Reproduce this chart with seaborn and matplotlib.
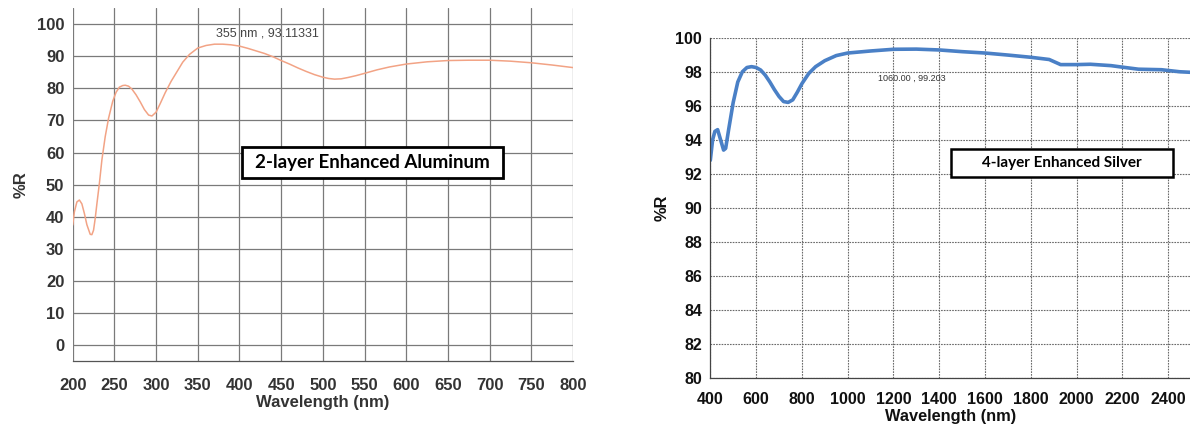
import numpy as np
import pandas as pd
import matplotlib
matplotlib.use("Agg")
import matplotlib.pyplot as plt
from matplotlib.patches import Rectangle
import seaborn as sns

# ---- data: 2-layer enhanced aluminum ----
al_wavelength = [200, 202, 205, 208, 211, 214, 217, 221, 223, 225, 227, 229, 232, 235, 239, 243, 248,
                 252, 256, 260, 263, 267, 271, 276, 281, 286, 291, 295, 300, 305, 311, 318, 325, 332,
                 340, 350, 360, 370, 380, 390, 400, 410, 420, 430, 440, 450, 460, 470, 480, 490, 500,
                 507, 514, 522, 530, 540, 550, 565, 580, 600, 625, 650, 675, 700, 725, 750, 775, 800]
al_reflect = [37.4, 41.5, 44.6, 45.2, 44.0, 41.0, 37.5, 34.5, 34.4, 35.8, 39.5, 44.0, 50.4, 57.7, 65.0, 70.7, 76.0,
              78.8, 80.4, 80.9, 81.0, 80.7, 79.8, 78.0, 75.8, 73.4, 71.7, 71.4, 72.6, 75.3, 78.7, 82.2, 85.2, 88.2,
              90.6, 92.6, 93.4, 93.8, 93.8, 93.6, 93.2, 92.5, 91.7, 90.9, 89.9, 88.7, 87.6, 86.4, 85.3, 84.3, 83.5,
              83.1, 82.9, 83.0, 83.4, 84.0, 84.7, 85.8, 86.7, 87.6, 88.3, 88.7, 88.8, 88.8, 88.5, 88.0, 87.3, 86.5]

# ---- data: 4-layer enhanced silver ----
ag_wavelength = [400, 410, 420, 432, 445, 458, 467, 480, 500, 520, 540, 560, 580, 600, 620, 640, 660, 680,
                 700, 720, 740, 760, 780, 800, 830, 860, 900, 950, 1000, 1100, 1200, 1300, 1400, 1500,
                 1600, 1700, 1800, 1880, 1930, 2000, 2060, 2150, 2200, 2270, 2370, 2450, 2495]
ag_reflect = [92.8, 94.0, 94.5, 94.6, 94.0, 93.4, 93.5, 94.6, 96.2, 97.4, 98.0, 98.25, 98.3, 98.25, 98.1, 97.8, 97.4, 96.95,
              96.55, 96.25, 96.2, 96.35, 96.8, 97.3, 97.9, 98.3, 98.65, 98.95, 99.1, 99.22, 99.32, 99.33, 99.28, 99.18,
              99.1, 98.98, 98.85, 98.72, 98.42, 98.42, 98.44, 98.36, 98.27, 98.15, 98.12, 98.0, 97.97]

al_xticks = [200, 250, 300, 350, 400, 450, 500, 550, 600, 650, 700, 750, 800]
al_yticks = [0, 10, 20, 30, 40, 50, 60, 70, 80, 90, 100]
ag_xticks = [400, 600, 800, 1000, 1200, 1400, 1600, 1800, 2000, 2200, 2400]
ag_yticks = [80, 82, 84, 86, 88, 90, 92, 94, 96, 98, 100]

al_df = pd.DataFrame({"Wavelength (nm)": al_wavelength, "%R": al_reflect})
ag_df = pd.DataFrame({"Wavelength (nm)": ag_wavelength, "%R": ag_reflect})

sns.set_theme(style="white")
plt.rcParams["font.family"] = ["Liberation Sans", "DejaVu Sans"]

fig = plt.figure(figsize=(11.9, 4.26), dpi=100)
ax1 = fig.add_axes([0.0611, 0.1526, 0.4204, 0.828])
ax2 = fig.add_axes([0.5969, 0.112, 0.4031, 0.7995])

# ---------- left panel ----------
sns.lineplot(data=al_df, x="Wavelength (nm)", y="%R", ax=ax1, color="#f2a385", linewidth=1.1, sort=False)
ax1.set_xlim(200, 800)
ax1.set_ylim(-5, 105)
ax1.set_xticks(al_xticks)
ax1.set_yticks(al_yticks)
ax1.grid(True, color="#7a7a7a", linewidth=0.9)
for s in ["top", "right", "left"]:
    ax1.spines[s].set_visible(False)
ax1.spines["bottom"].set_color("#555555")
ax1.spines["bottom"].set_linewidth(0.9)
ax1.tick_params(axis="both", direction="out", length=4, width=0.8, color="#777777",
                labelsize=12, labelcolor="#333333")
ax1.tick_params(axis="x", pad=8)
ax1.tick_params(axis="y", pad=2)
for lab in ax1.get_xticklabels() + ax1.get_yticklabels():
    lab.set_fontweight("bold")
ax1.set_xlabel("Wavelength (nm)", fontsize=12, fontweight="bold", color="#333333", labelpad=2)
ax1.set_ylabel("%R", fontsize=12, fontweight="bold", color="#333333", labelpad=6)
ax1.text(433, 97, "355 nm , 93.11331", fontsize=9, color="#444444", ha="center", va="center")
ax1.add_patch(Rectangle((0.338, 0.519), 0.522, 0.088, transform=ax1.transAxes,
                        facecolor="white", edgecolor="black", linewidth=2, zorder=4))
ax1.text(0.599, 0.563, "2-layer Enhanced Aluminum", transform=ax1.transAxes, fontsize=13.5,
         fontweight="bold", family=["Lato", "DejaVu Sans"], ha="center", va="center", color="black", zorder=5)

# ---------- right panel ----------
sns.lineplot(data=ag_df, x="Wavelength (nm)", y="%R", ax=ax2, color="#4a80c6", linewidth=2.6, sort=False)
ax2.set_xlim(400, 2495)
ax2.set_ylim(80, 100)
ax2.set_xticks(ag_xticks)
ax2.set_yticks(ag_yticks)
ax2.grid(True, color="#6a6a6a", linewidth=0.8, linestyle=(0, (1.5, 1)))
for s in ["top", "right"]:
    ax2.spines[s].set_visible(False)
for s in ["left", "bottom"]:
    ax2.spines[s].set_color("#444444")
    ax2.spines[s].set_linewidth(0.9)
ax2.tick_params(axis="both", direction="out", length=4, width=0.8, color="#444444",
                labelsize=11.5, labelcolor="#111111")
ax2.tick_params(axis="x", pad=6)
ax2.tick_params(axis="y", pad=2)
for lab in ax2.get_xticklabels() + ax2.get_yticklabels():
    lab.set_fontweight("bold")
ax2.set_xlabel("Wavelength (nm)", fontsize=11.8, fontweight="bold", color="#111111", labelpad=1)
ax2.set_ylabel("%R", fontsize=11.8, fontweight="bold", color="#111111", labelpad=4)
ax2.text(1281, 97.6, "1060.00 , 99.203", fontsize=6.5, color="#333333", ha="center", va="center")
ax2.add_patch(Rectangle((0.501, 0.592), 0.464, 0.081, transform=ax2.transAxes,
                        facecolor="white", edgecolor="black", linewidth=1.8, zorder=4))
ax2.text(0.733, 0.633, "4-layer Enhanced Silver", transform=ax2.transAxes, fontsize=11,
         fontweight="bold", family=["Lato", "DejaVu Sans"], ha="center", va="center", color="black", zorder=5)

fig.savefig("out.png", dpi=100, facecolor="white")
